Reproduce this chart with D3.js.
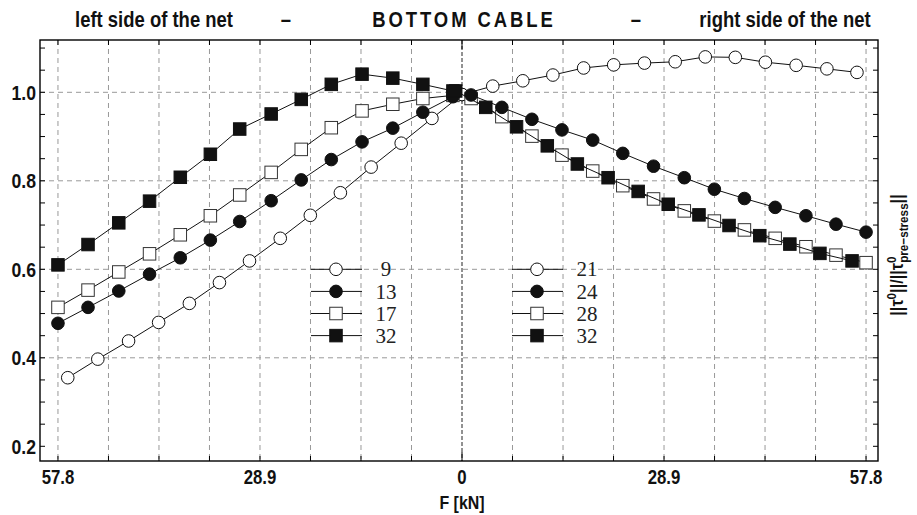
<!DOCTYPE html>
<html><head><meta charset="utf-8">
<script src="https://cdn.jsdelivr.net/npm/d3@7"></script>
<style>body{margin:0;background:#fff}</style>
</head><body>
<svg id="c" width="917" height="515"></svg>
<script>
// ---- data (F in kN, negative = left side of the net) ----
const F_left  = [-57.8,-53.5,-49.1,-44.7,-40.3,-36.0,-31.8,-27.3,-23.0,-18.7,-14.3,-9.9,-5.6,-1.3];
const F_right = [1.3,5.7,10.0,14.3,18.7,23.0,27.4,31.8,36.1,40.4,44.8,49.2,53.5,57.8];
const F_9     = [-56.4,-52.1,-47.7,-43.4,-39.0,-34.7,-30.4,-26.0,-21.7,-17.4,-13.0,-8.7,-4.3,0];
const F_21    = [0,4.4,8.7,13.0,17.4,21.7,26.1,30.5,34.8,39.1,43.4,47.8,52.2,56.5];
const F_32R   = [-0.9,3.4,7.8,12.2,16.5,20.9,25.2,29.5,33.9,38.2,42.6,46.9,51.2,55.8];

const v_9   = [0.355,0.397,0.438,0.480,0.523,0.570,0.619,0.670,0.722,0.773,0.831,0.885,0.941,0.995];
const v_13  = [0.478,0.514,0.551,0.589,0.626,0.666,0.708,0.755,0.802,0.848,0.888,0.919,0.955,0.990];
const v_17  = [0.514,0.553,0.594,0.635,0.678,0.721,0.768,0.819,0.871,0.920,0.958,0.973,0.986,0.993];
const v_32L = [0.610,0.656,0.705,0.754,0.808,0.860,0.917,0.951,0.984,1.018,1.041,1.032,1.018,1.003];
const v_21  = [0.995,1.014,1.026,1.039,1.055,1.062,1.066,1.069,1.080,1.079,1.068,1.061,1.053,1.045];
const v_24  = [0.994,0.966,0.939,0.915,0.892,0.862,0.833,0.807,0.781,0.760,0.740,0.721,0.702,0.684];
const v_28  = [0.986,0.945,0.901,0.858,0.822,0.789,0.759,0.732,0.709,0.689,0.670,0.651,0.632,0.615];
const v_32R = [1.003,0.966,0.922,0.879,0.838,0.807,0.776,0.747,0.723,0.699,0.676,0.657,0.636,0.619];

const legendLeft  = ["9","13","17","32"];
const legendRight = ["21","24","28","32"];
const xTickValues = [-57.8,-28.9,0,28.9,57.8];
const xTickLabels = ["57.8","28.9","0","28.9","57.8"];
const yTickValues = [0.2,0.4,0.6,0.8,1.0];
const yTickLabels = ["0.2","0.4","0.6","0.8","1.0"];

const series = [
  {name:"9",  x:F_9,    y:v_9,   m:"oc"},
  {name:"21", x:F_21,   y:v_21,  m:"oc"},
  {name:"17", x:F_left, y:v_17,  m:"os"},
  {name:"28", x:F_right,y:v_28,  m:"os"},
  {name:"13", x:F_left, y:v_13,  m:"fc"},
  {name:"24", x:F_right,y:v_24,  m:"fc"},
  {name:"32L",x:F_left, y:v_32L, m:"fs"},
  {name:"32R",x:F_32R,  y:v_32R, m:"fs"}
];
const legendMarkers = ["oc","fc","os","fs"];

// ---- layout ----
const L=40, R=878, T=40, B=461;
const x = d3.scaleLinear().domain([-60.37,59.51]).range([L,R]);
const y = d3.scaleLinear().domain([0.1668,1.1182]).range([B,T]);
const SANS = "'Liberation Sans',Arial,sans-serif";
const SERIF = "'Liberation Serif','Times New Roman',serif";
const NARROW = 0.84;
const svg = d3.select("#c");

// narrow bold text helper
function ntext(parent, tx, ty, str, size, anchor, dy){
  const t = parent.append("text")
    .attr("transform",`translate(${tx},${ty}) scale(${NARROW},1)`)
    .attr("text-anchor",anchor||"middle")
    .attr("font-family",SANS).attr("font-weight","bold").attr("font-size",size).attr("fill","#111");
  if(dy) t.attr("dy",dy);
  t.text(str);
  return t;
}

// grid
const gridStep = 7.225;
const gx = d3.range(-8,9).map(k=>k*gridStep);
svg.append("g").selectAll("line").data(gx).join("line")
  .attr("x1",d=>x(d)).attr("x2",d=>x(d)).attr("y1",T).attr("y2",B)
  .attr("stroke",d=>Math.abs(d)<1e-9?"#777":"#999")
  .attr("stroke-width",d=>Math.abs(d)<1e-9?1.6:1)
  .attr("stroke-dasharray",d=>Math.abs(d)<1e-9?"4,2":"5,4");
svg.append("g").selectAll("line").data([0.4,0.6,0.8,1.0]).join("line")
  .attr("x1",L).attr("x2",R).attr("y1",d=>y(d)).attr("y2",d=>y(d))
  .attr("stroke","#999").attr("stroke-width",1).attr("stroke-dasharray","5,4");

// ticks on frame
const tg = svg.append("g").attr("stroke","#000").attr("stroke-width",1);
gx.forEach(d=>{
  const len = Math.abs(d)<1e-9?9:5;
  tg.append("line").attr("x1",x(d)).attr("x2",x(d)).attr("y1",B).attr("y2",B-len);
  tg.append("line").attr("x1",x(d)).attr("x2",x(d)).attr("y1",T).attr("y2",T+len);
});
d3.range(4,23).map(k=>k*0.05).forEach(d=>{
  tg.append("line").attr("x1",L).attr("x2",L+5).attr("y1",y(d)).attr("y2",y(d));
  tg.append("line").attr("x1",R).attr("x2",R-5).attr("y1",y(d)).attr("y2",y(d));
});

// frame
svg.append("rect").attr("x",L).attr("y",T).attr("width",R-L).attr("height",B-T)
  .attr("fill","none").attr("stroke","#000").attr("stroke-width",1.4);

// markers
function marker(g, m, cx, cy){
  if(m==="oc"||m==="fc"){
    g.append("circle").attr("cx",cx).attr("cy",cy).attr("r",6.3)
      .attr("fill",m==="fc"?"#111":"#fff").attr("stroke","#111").attr("stroke-width",1);
  } else {
    const s=12.5;
    g.append("rect").attr("x",cx-s/2).attr("y",cy-s/2).attr("width",s).attr("height",s)
      .attr("fill",m==="fs"?"#111":"#fff").attr("stroke",m==="fs"?"#111":"#333").attr("stroke-width",1);
  }
}
const line = d3.line().x(d=>x(d[0])).y(d=>y(d[1]));
series.forEach(s=>{
  const pts = s.x.map((v,i)=>[v,s.y[i]]);
  const g = svg.append("g");
  g.append("path").attr("d",line(pts)).attr("fill","none").attr("stroke","#111").attr("stroke-width",1);
  pts.forEach(p=>marker(g,s.m,x(p[0]),y(p[1])));
});

// legend
function legend(x0, names){
  names.forEach((n,i)=>{
    const yy = y(0.6) + i*22.1;
    const g = svg.append("g");
    g.append("line").attr("x1",x0).attr("x2",x0+51).attr("y1",yy).attr("y2",yy).attr("stroke","#111").attr("stroke-width",1);
    marker(g, legendMarkers[i], x0+25, yy);
    g.append("text").attr("x",x0+75).attr("y",yy).attr("dy","0.34em").attr("text-anchor","middle")
      .attr("font-family",SERIF).attr("font-size",21).attr("fill","#222").text(n);
  });
}
legend(311, legendLeft);
legend(512, legendRight);

// axis labels
const ax = svg.append("g");
xTickValues.forEach((d,i)=>ntext(ax, x(d), 484, xTickLabels[i], 20, "middle"));
yTickValues.forEach((d,i)=>ntext(ax, 36, y(d), yTickLabels[i], 21, "end", "0.36em"));
ntext(ax, x(0), 509, "F [kN]", 19, "middle");

// title row
const title = svg.append("g");
ntext(title, 154, 27, "left side of the net", 22, "middle");
ntext(title, 286, 27, "–", 22, "middle");
ntext(title, 464, 27, "BOTTOM  CABLE", 22, "middle").attr("letter-spacing","3.5px");
ntext(title, 636, 27, "–", 22, "middle");
ntext(title, 785, 27, "right side of the net", 22, "middle");

// right y label
const yl = svg.append("text").attr("transform","translate(903,255) rotate(-90) scale(0.9,1)")
  .attr("text-anchor","middle").attr("font-family",SANS).attr("font-weight","bold")
  .attr("font-size",18).attr("fill","#111");
yl.append("tspan").text("||τ");
yl.append("tspan").attr("dy",-7).attr("font-size",13).text("0");
yl.append("tspan").attr("dy",7).text("||/||τ");
yl.append("tspan").attr("dy",-7).attr("font-size",13).text("0");
yl.append("tspan").attr("dx",-7).attr("dy",12).attr("font-size",13).text("pre−stress");
yl.append("tspan").attr("dy",-5).text("||");
</script></body></html>
